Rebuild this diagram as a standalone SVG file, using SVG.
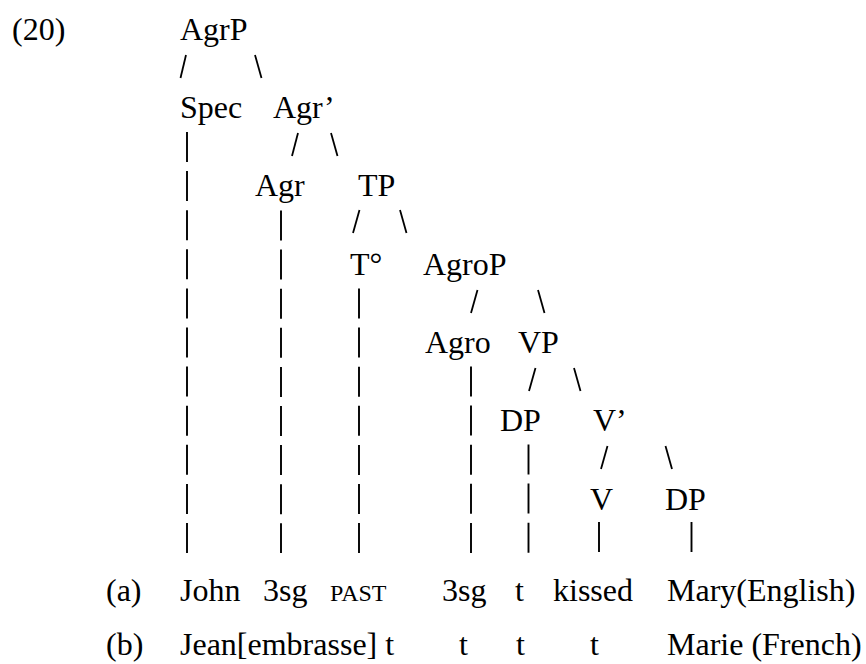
<svg xmlns="http://www.w3.org/2000/svg" width="866" height="664" viewBox="0 0 866 664">
  <rect width="866" height="664" fill="#fff"/>

  <g font-family="Liberation Serif" font-size="32" fill="#000">
    <!-- example number -->
    <g id="label-20"><text x="12" y="40">(20)</text></g>

    <!-- tree nodes -->
    <g id="node-AgrP"><text x="180" y="40">AgrP</text></g>
    <g id="node-Spec"><text x="180" y="118">Spec</text></g>
    <g id="node-AgrBar"><text x="273" y="118">Agr’</text></g>
    <g id="node-Agr"><text x="255" y="196">Agr</text></g>
    <g id="node-TP"><text x="358" y="196">TP</text></g>
    <g id="node-T0"><text x="350" y="275">T°</text></g>
    <g id="node-AgroP"><text x="423" y="275">AgroP</text></g>
    <g id="node-Agro"><text x="425" y="353">Agro</text></g>
    <g id="node-VP"><text x="518" y="353">VP</text></g>
    <g id="node-DP1"><text x="500" y="431">DP</text></g>
    <g id="node-VBar"><text x="593" y="431">V’</text></g>
    <g id="node-V"><text x="590" y="510">V</text></g>
    <g id="node-DP2"><text x="665" y="510">DP</text></g>

    <!-- (a) English terminal string -->
    <g id="row-a">
      <text x="106" y="601">(a)</text>
      <text x="180" y="601">John</text>
      <text x="263" y="601">3sg</text>
      <text x="330" y="601" font-size="24">PAST</text>
      <text x="442" y="601">3sg</text>
      <text x="515" y="601">t</text>
      <text x="553" y="601">kissed</text>
      <text x="667" y="601">Mary(English)</text>
    </g>

    <!-- (b) French terminal string -->
    <g id="row-b">
      <text x="106" y="655">(b)</text>
      <text x="180" y="655">Jean[embrasse] t</text>
      <text x="459" y="655">t</text>
      <text x="516" y="655">t</text>
      <text x="590" y="655">t</text>
      <text x="667" y="655">Marie (French)</text>
    </g>
  </g>

  <!-- branches and stems -->
  <g id="connectors" stroke="#000" fill="none">
    <g stroke-width="1.8">
      <line x1="180.5" y1="78" x2="186" y2="55"/>
      <line x1="255" y1="55" x2="261.5" y2="78"/>
      <line x1="292" y1="156" x2="298" y2="133"/>
      <line x1="331" y1="133" x2="337.5" y2="156"/>
      <line x1="353" y1="233" x2="359.5" y2="210"/>
      <line x1="400" y1="210" x2="406.5" y2="233"/>
      <line x1="471" y1="313" x2="477.5" y2="290"/>
      <line x1="538" y1="290" x2="544.5" y2="313"/>
      <line x1="529" y1="391" x2="535.5" y2="368"/>
      <line x1="574" y1="368" x2="580.5" y2="391"/>
      <line x1="601" y1="469" x2="607.5" y2="446"/>
      <line x1="665.5" y1="446" x2="672" y2="469"/>
    </g>
    <g stroke-width="1.9" stroke-dasharray="30 9.1">
      <line x1="187" y1="132" x2="187" y2="553"/>
      <line x1="281" y1="210.5" x2="281" y2="553"/>
      <line x1="359" y1="288.5" x2="359" y2="553"/>
      <line x1="471" y1="366.5" x2="471" y2="553"/>
      <line x1="528.5" y1="444.5" x2="528.5" y2="553"/>
      <line x1="599" y1="522" x2="599" y2="552"/>
      <line x1="691.5" y1="522" x2="691.5" y2="552"/>
    </g>
  </g>
</svg>
